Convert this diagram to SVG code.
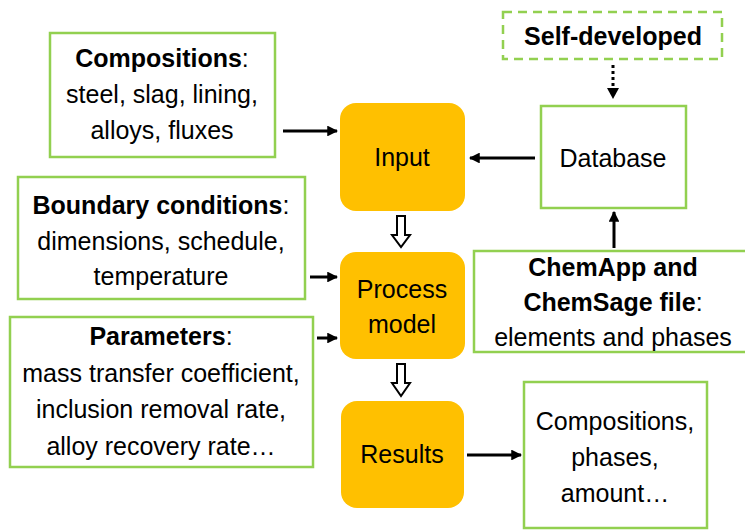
<svg xmlns="http://www.w3.org/2000/svg" width="745" height="530" viewBox="0 0 745 530">
<defs>
<style>
.box{fill:#fff;stroke:#92D050;stroke-width:2.5}
.dash{fill:#fff;stroke:#92D050;stroke-width:2.5;stroke-dasharray:9 6}
.core{fill:#FFC000;stroke:none}
text{font-family:"Liberation Sans",Arial,sans-serif;font-size:25px;fill:#000;text-anchor:middle}
.b{font-weight:bold}
.ln{stroke:#000;stroke-width:3;fill:none}
.hollow{fill:#fff;stroke:#000;stroke-width:2}
</style>
<marker id="ah" viewBox="0 0 10 10" refX="9" refY="5" markerWidth="3.6" markerHeight="3.6" orient="auto" markerUnits="strokeWidth">
<path d="M0,0 L10,5 L0,10 z" fill="#000"/>
</marker>
</defs>
<g id="compositions">
<rect class="box" x="50" y="33" width="225" height="124"/>
<text x="162" y="67"><tspan class="b">Compositions</tspan>:</text>
<text x="162" y="103">steel, slag, lining,</text>
<text x="162" y="139">alloys, fluxes</text>
</g>
<g id="boundary">
<rect class="box" x="18" y="177" width="287" height="122"/>
<text x="161" y="214"><tspan class="b">Boundary conditions</tspan>:</text>
<text x="161" y="250">dimensions, schedule,</text>
<text x="161" y="285">temperature</text>
</g>
<g id="parameters">
<rect class="box" x="10" y="317" width="303" height="150"/>
<text x="161" y="345"><tspan class="b">Parameters</tspan>:</text>
<text x="161" y="382">mass transfer coefficient,</text>
<text x="161" y="418">inclusion removal rate,</text>
<text x="161" y="455">alloy recovery rate…</text>
</g>
<g id="input">
<rect class="core" x="340" y="103" width="125" height="108" rx="16"/>
<text x="402" y="166">Input</text>
</g>
<g id="process">
<rect class="core" x="340" y="252" width="125" height="107" rx="16"/>
<text x="402" y="298">Process</text>
<text x="402" y="333">model</text>
</g>
<g id="results">
<rect class="core" x="341" y="401" width="123" height="107" rx="16"/>
<text x="402" y="463">Results</text>
</g>
<g id="selfdev">
<rect class="dash" x="503" y="12" width="219" height="47"/>
<text class="b" x="613" y="45">Self-developed</text>
</g>
<g id="database">
<rect class="box" x="541" y="106" width="145" height="102"/>
<text x="613" y="167">Database</text>
</g>
<g id="chemapp">
<rect class="box" x="474" y="251" width="274" height="101"/>
<text class="b" x="613" y="276">ChemApp and</text>
<text x="613" y="311"><tspan class="b">ChemSage file</tspan>:</text>
<text x="613" y="346">elements and phases</text>
</g>
<g id="output">
<rect class="box" x="524" y="382" width="183" height="146"/>
<text x="615" y="430">Compositions,</text>
<text x="615" y="466">phases,</text>
<text x="615" y="502">amount…</text>
</g>
<g id="connectors">
<line class="ln" x1="283" y1="131" x2="337" y2="131" marker-end="url(#ah)"/>
<line class="ln" x1="535" y1="158" x2="470" y2="158" marker-end="url(#ah)"/>
<line class="ln" x1="310" y1="277" x2="337" y2="277" marker-end="url(#ah)"/>
<line class="ln" x1="317" y1="338" x2="337" y2="338" marker-end="url(#ah)"/>
<line class="ln" x1="467" y1="455" x2="521" y2="455" marker-end="url(#ah)"/>
<line class="ln" x1="614" y1="248" x2="614" y2="212" marker-end="url(#ah)"/>
<line x1="613" y1="65" x2="613" y2="90" stroke="#000" stroke-width="3" stroke-dasharray="3 3"/>
<path d="M607,88 L619,88 L613,99 z" fill="#000"/>
<path class="hollow" d="M397,216 L405,216 L405,235 L410,235 L401,247 L392,235 L397,235 z"/>
<path class="hollow" d="M397,364 L405,364 L405,383 L410,383 L401,396 L392,383 L397,383 z"/>
</g>
</svg>
